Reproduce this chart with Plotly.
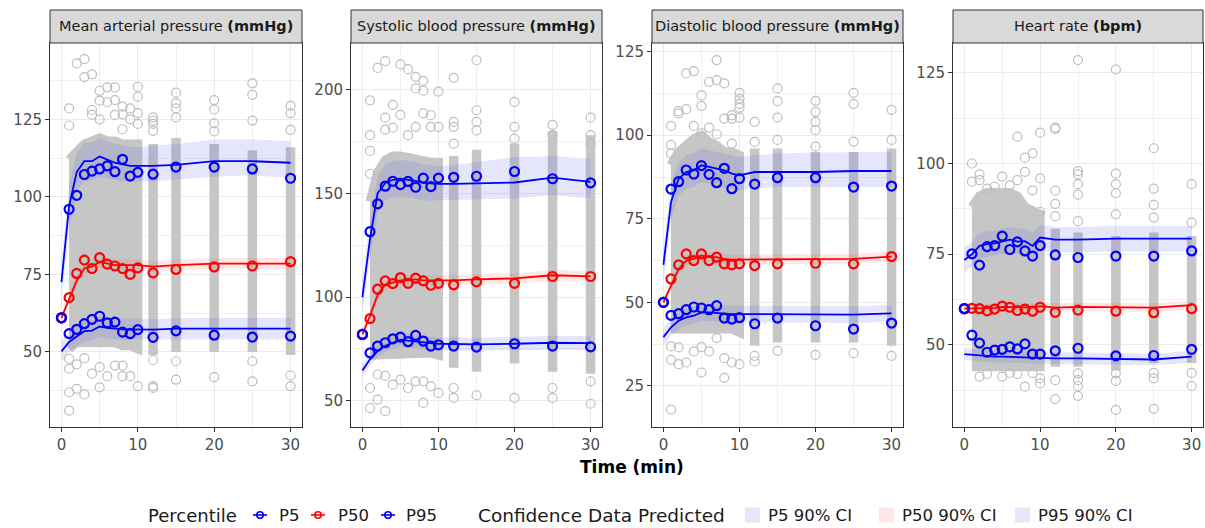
import plotly.graph_objects as go

FONT = "DejaVu Sans"
W, H = 1205, 528

TIMES = [0, 1, 2, 3, 4, 5, 6, 7, 8, 9, 10, 12, 15, 20, 25, 30]
CORE_T = [1, 2, 3, 4, 5, 6, 7, 8, 9, 10]
COL_T = [12, 15, 20, 25, 30]

# ---------------- Mean arterial pressure ----------------
MAP_P95_OBS = [61, 96, 100.5, 107.2, 108.3, 109, 110, 108.1, 112.1, 106.7, 107.9, 107.3, 109.6, 109.6, 109, 106]
MAP_P95_PRED = [72.5, 97, 108, 111.5, 111.5, 113, 112, 111, 110.5, 110, 110, 110, 110.3, 111.5, 111.5, 111]
MAP_P95_LO = [66, 90, 102, 105, 105.5, 106.5, 106, 105.5, 105, 105, 105, 105, 105.5, 106.5, 107, 106]
MAP_P95_HI = [79, 104, 114, 117.5, 117.5, 119, 118, 117, 116.5, 116, 116, 116.5, 117, 118.5, 118.5, 118]
MAP_P50_OBS = [61, 67.5, 75.3, 79.6, 76.9, 80.4, 78.3, 77.7, 76.9, 75, 77.1, 75.5, 76.6, 77.4, 77.7, 79.1]
MAP_P50_PRED = [61, 67, 73, 77, 77.5, 79, 78.5, 78, 78, 78, 78, 77.5, 78, 78.5, 78.5, 78.5]
MAP_P50_LO = [59.5, 65.5, 71.5, 75.3, 75.8, 77.2, 76.8, 76.3, 76.3, 76.3, 76.3, 75.8, 76.3, 76.8, 76.8, 76.8]
MAP_P50_HI = [62.5, 68.8, 74.8, 78.8, 79.3, 80.8, 80.3, 79.8, 79.8, 79.8, 79.8, 79.3, 79.8, 80.3, 80.3, 80.3]
MAP_P5_OBS = [61, 55.9, 57.3, 59.1, 60.5, 61.5, 59.4, 59.6, 56.4, 55.9, 57.2, 54.7, 56.8, 55.4, 54.8, 55.1]
MAP_P5_PRED = [50.2, 53.2, 55, 56.7, 56.9, 58.2, 57.8, 57.5, 57.3, 57.3, 57.3, 57.2, 57.5, 57.5, 57.5, 57.5]
MAP_P5_LO = [47, 50, 51.8, 53.4, 53.6, 54.8, 54.4, 54.1, 53.9, 53.9, 54, 54, 54.2, 54.1, 54, 54]
MAP_P5_HI = [53.5, 56.5, 58.3, 60, 60.3, 61.6, 61.2, 60.9, 60.7, 60.7, 60.6, 60.6, 60.9, 61, 61, 61]
MAP_CORE_HI = [112, 115, 117, 118, 119, 118, 118, 117, 117, 117]
MAP_CORE_LO = [51, 53, 53, 53, 53, 53, 53, 52, 52, 51]
MAP_COL_HI = [117, 119, 117, 115, 116]
MAP_COL_LO = [49, 50, 50, 50, 49]
MAP_OUT_T = [1, 1, 2, 3, 3, 4, 4, 4, 5, 5, 5, 6, 6, 7, 7, 7, 8, 8, 8, 9, 9, 10, 10, 10, 10,
             12, 12, 12, 12, 15, 15, 15, 15, 20, 20, 20, 20, 25, 25, 25, 30, 30, 30,
             1, 1, 1, 1, 2, 3, 4, 5, 5, 6, 7, 8, 8, 9, 10, 12, 12, 12, 15, 15, 20, 25, 25, 30, 30, 2, 3]
MAP_OUT_Y = [128.5, 123, 143, 144.4, 138.6, 139.5, 128, 126.5, 134.2, 131, 125, 135.3, 130.5, 135.3, 131.2, 126.4,
             129.1, 126.6, 121.8, 128.5, 125, 135.5, 132.3, 127, 123.5,
             125.6, 124.6, 123.5, 121.3, 133.6, 130.2, 128.5, 125.6, 131.2, 128.2, 123.7, 121.1,
             136.6, 132.9, 124.6, 129.3, 127, 121.6,
             31.1, 37, 44.6, 47.8, 38.1, 36.3, 43, 45.1, 38.6, 42.2, 45.6, 42.2, 45.6, 42.2, 39,
             39, 38.4, 47.4, 41.1, 47, 41.9, 40.5, 47, 42.4, 39, 46, 48]

# ---------------- Systolic blood pressure ----------------
SBP_P95_OBS = [82, 131.5, 144.9, 153.4, 155.8, 154.2, 155.7, 152.9, 157.3, 153.2, 157.3, 157.7, 158.2, 160.5, 157, 155]
SBP_P95_PRED = [100, 128, 150, 155, 156.5, 157, 156.5, 156, 155, 154.8, 154.5, 154.5, 154.8, 155.2, 157.5, 155.5]
SBP_P95_LO = [92, 119, 141, 146.5, 148, 148.5, 148, 147.5, 146.5, 146.5, 146.5, 146.5, 147, 147.5, 149, 147.5]
SBP_P95_HI = [108, 137, 158.5, 164, 165.5, 166, 165.5, 165, 164, 163.5, 163, 163.5, 165, 167.5, 168, 166.5]
SBP_P50_OBS = [82, 89.6, 103.8, 107.8, 106.5, 109.4, 106.6, 109.1, 107.8, 105.7, 106.6, 105.9, 107.3, 106.6, 109.9, 109.9]
SBP_P50_PRED = [82, 91, 101, 106, 107, 108, 108, 108.5, 108, 108, 108, 108, 108.5, 109, 110.5, 110]
SBP_P50_LO = [79.5, 88.5, 98.5, 103.5, 104.5, 105.5, 105.5, 106, 105.5, 105.5, 105.5, 105.5, 106, 106.5, 107.5, 107.5]
SBP_P50_HI = [84.5, 93.5, 103.5, 108.5, 109.5, 110.5, 110.5, 111, 110.5, 110.5, 110.5, 110.5, 111, 111.5, 113, 112.5]
SBP_P5_OBS = [82, 73.1, 76.4, 78, 79.9, 80.7, 78.5, 81.5, 78.8, 76.4, 77, 76.4, 75.9, 77.5, 76.4, 76]
SBP_P5_PRED = [64.6, 70, 74, 76.5, 78, 79.5, 79, 78.5, 78, 77.8, 77.5, 77.3, 77.2, 77.5, 78, 77.8]
SBP_P5_LO = [61.5, 67, 71, 73.5, 75, 76.3, 75.8, 75.3, 74.8, 74.6, 74.4, 74.2, 74.1, 74.3, 74.6, 74.4]
SBP_P5_HI = [67.7, 73, 77, 79.5, 81, 82.7, 82.2, 81.7, 81.2, 81, 80.6, 80.4, 80.4, 80.8, 81.4, 81.2]
SBP_CORE_HI = [146, 160, 166, 168, 168, 167, 166, 165, 165, 165]
SBP_CORE_LO = [72, 73, 73, 73, 73, 73, 73, 73, 73, 72]
SBP_COL_HI = [168, 171, 174, 180, 178]
SBP_COL_LO = [66, 64, 68, 64, 63]
SBP_OUT_T = [1, 1, 1, 1, 2, 3, 3, 3, 4, 4, 5, 5, 6, 6, 7, 7, 7, 8, 8, 8, 9, 9, 10, 10,
             12, 12, 12, 12, 15, 15, 15, 15, 20, 20, 20, 25, 25, 30, 30, 30,
             1, 3, 2, 1, 4, 5, 6, 7, 8, 8, 9, 10, 12, 12, 15, 20, 25, 25, 30, 30, 2, 3]
SBP_OUT_Y = [194.8, 178, 170.4, 159.4, 210.4, 213.7, 186.4, 180.7, 192.6, 181.6, 212.1, 187.8, 209.8, 178,
             206.1, 200.5, 182, 204.2, 199.4, 188.5, 187.6, 182, 199, 182,
             205.6, 184.4, 182, 173.9, 214.1, 190, 184.4, 180.3, 194, 182, 176.3, 183, 178, 186.4, 178, 173.9,
             46.5, 45, 50.6, 56.2, 57.8, 60.2, 56.2, 59.4, 49, 59.4, 57, 53.8, 51.4, 56.2, 52.7, 51.4,
             51.4, 56.2, 48.6, 59.4, 62.7, 62]

# ---------------- Diastolic blood pressure ----------------
DBP_P95_OBS = [50, 83.9, 86.1, 89.6, 88.4, 90.9, 88.3, 85.8, 90.1, 84, 87, 85.4, 87.3, 87.3, 84.5, 84.8]
DBP_P95_PRED = [61.2, 80, 87, 89, 89.5, 91, 90.5, 90, 89.5, 88.5, 88, 89, 89, 89, 89.3, 89.3]
DBP_P95_LO = [56.5, 75, 82, 84, 84.5, 86, 85.5, 85, 84.5, 84, 83.5, 84, 84.5, 84.5, 84.5, 84.5]
DBP_P95_HI = [66, 85, 92, 94, 94.5, 96, 95.5, 95, 94.5, 94, 93.5, 94, 94.5, 94.8, 95, 95]
DBP_P50_OBS = [50, 57, 61.2, 64.5, 62.5, 64.5, 62.5, 63.5, 61.5, 61.2, 61.5, 61, 61.5, 61.7, 61.5, 63.7]
DBP_P50_PRED = [50, 55, 60, 62.5, 63, 64, 63.5, 63.5, 63, 62.8, 62.8, 63, 63, 63, 63, 63.7]
DBP_P50_LO = [48.5, 53.5, 58.5, 61, 61.5, 62.5, 62, 62, 61.5, 61.3, 61.3, 61.5, 61.5, 61.5, 61.5, 62.2]
DBP_P50_HI = [51.5, 56.5, 61.5, 64, 64.5, 65.5, 65, 65, 64.5, 64.3, 64.3, 64.5, 64.5, 64.5, 64.5, 65.2]
DBP_P5_OBS = [50, 46.1, 46.6, 47.8, 48.6, 48.3, 47.8, 49, 45.3, 45, 45.4, 43.6, 45.3, 43, 42, 43.8]
DBP_P5_PRED = [39.6, 42.5, 44.5, 45.5, 46, 47, 47, 46.8, 46.5, 46.5, 46.5, 46.5, 46.5, 46.3, 46.3, 46.7]
DBP_P5_LO = [37, 40, 42, 43, 43.5, 44.5, 44.5, 44.3, 44, 44, 44, 44, 44, 43.8, 43.8, 44.2]
DBP_P5_HI = [42.2, 45, 47, 48, 48.5, 49.5, 49.5, 49.3, 49, 49, 49, 49, 49, 48.8, 48.8, 49.2]
DBP_CORE_HI = [91, 95, 97, 99, 100, 98, 97, 95, 95, 94]
DBP_CORE_LO = [42, 42, 42, 42, 42, 42, 42, 42, 42, 41]
DBP_COL_HI = [96, 96, 95, 95, 96]
DBP_COL_LO = [37, 38, 38, 38, 37]
DBP_OUT_T = [7, 3, 4, 6, 7, 8, 5, 5, 10, 10, 10, 10, 10, 15, 15, 15, 20, 20, 20, 20, 25, 25, 30,
             2, 2, 3, 1, 1, 1, 8, 9, 9, 12, 12, 4, 5, 6, 7, 9, 15, 20, 25, 30,
             1, 1, 2, 3, 5, 8, 8, 9, 10, 4, 6, 1, 2, 12, 12, 15, 20, 25, 30, 7, 5]
DBP_OUT_Y = [122.5, 118.5, 119.2, 116, 116.5, 115.5, 111.9, 108.8, 112.7, 110.9, 109.4, 108.2, 105.3,
             114, 110.2, 105.3, 110.3, 107, 104, 101.5, 112.7, 109.4, 107.6,
             107.2, 106.5, 107.8, 102.8, 97.1, 94.5, 105, 106, 105, 104, 98, 102.8, 100.6, 102.3, 100.3, 97.5,
             98.6, 96.6, 98.1, 98.6,
             17.9, 32.8, 31.5, 32, 29, 27.4, 33.3, 32, 31.5, 35.3, 35.3, 36.8, 36.5, 32.3, 34, 35.5,
             34.3, 34.8, 34, 39.3, 36.6]

# ---------------- Heart rate ----------------
HR_P95_OBS = [60, 75.1, 72, 77.1, 77.4, 80, 76.3, 78.4, 75.9, 74.5, 77.4, 74.8, 74.1, 74.5, 74.5, 75.9]
HR_P95_PRED = [73.4, 75, 77.3, 77.8, 78, 78.6, 79, 78.5, 78.6, 77.3, 79.6, 79, 79, 79.3, 79.3, 79.3]
HR_P95_LO = [70, 71.5, 73.8, 74.3, 74.5, 75.1, 75.5, 75, 75.1, 73.8, 76.1, 75.5, 75.5, 75.8, 75.8, 75.8]
HR_P95_HI = [76.8, 78.5, 80.8, 81.3, 81.5, 82.1, 82.5, 82, 82.1, 80.8, 83.1, 82.5, 82.5, 82.8, 82.8, 82.8]
HR_P50_OBS = [60, 60.1, 60, 59.4, 59.9, 60.7, 60.4, 59.5, 59.9, 59.3, 60.4, 59, 59.6, 59.3, 58.9, 60]
HR_P50_PRED = [60, 60, 60, 60, 60.2, 60.5, 60.4, 60.3, 60.2, 60.3, 60.7, 60.3, 60.5, 60.5, 60.3, 61]
HR_P50_LO = [58.8, 58.8, 58.8, 58.8, 59, 59.3, 59.2, 59.1, 59, 59.1, 59.5, 59.1, 59.3, 59.3, 59.1, 59.8]
HR_P50_HI = [61.2, 61.2, 61.2, 61.2, 61.4, 61.7, 61.6, 61.5, 61.4, 61.5, 61.9, 61.5, 61.7, 61.7, 61.5, 62.2]
HR_P5_OBS = [60, 52.7, 50.5, 48, 48.6, 48.8, 49.5, 48.9, 50.3, 47.5, 47.5, 48.4, 49.1, 47, 47.1, 48.8]
HR_P5_PRED = [47.5, 47.3, 47.1, 46.9, 46.8, 46.8, 46.7, 46.7, 46.6, 46.5, 46.5, 46.3, 46.3, 46.2, 46, 46.8]
HR_P5_LO = [45.9, 45.7, 45.5, 45.3, 45.2, 45.2, 45.1, 45.1, 45, 44.9, 44.9, 44.7, 44.7, 44.6, 44.4, 45.2]
HR_P5_HI = [49.1, 48.9, 48.7, 48.5, 48.4, 48.4, 48.3, 48.3, 48.2, 48.1, 48.1, 47.9, 47.9, 47.8, 47.6, 48.4]
HR_CORE_HI = [88, 91, 92, 92, 92, 92, 91, 88, 87, 86]
HR_CORE_LO = [44, 44, 44, 44, 44, 44, 44, 44, 44, 44]
HR_COL_HI = [82, 81, 80, 81, 80]
HR_COL_LO = [44, 44, 43, 45, 45]
HR_OUT_T = [15, 20, 25, 12, 12, 10, 7, 9, 8, 1, 8, 7, 5, 2, 2, 1, 15, 15, 15, 15, 20, 20, 20, 25, 25, 30,
            12, 12, 12, 10, 9, 6, 4, 3, 15, 20, 25, 30, 10,
            20, 25, 12, 15, 8, 30, 2, 3, 5, 7, 10, 10, 12, 15, 15, 15, 20, 20, 25, 25, 30, 9, 6]
HR_OUT_Y = [128.5, 125.9, 104.2, 109.9, 109.5, 108.5, 107.4, 102.8, 101.6, 100, 97.7, 95.4, 96.4, 97, 95.4, 95,
            97.9, 97, 94.3, 91.4, 97.2, 94.3, 91.8, 93.1, 88.6, 94.3,
            92.5, 88.9, 85.5, 95.9, 92.6, 94, 93.6, 93.1, 84.1, 86, 85.1, 83.7, 86.7,
            32.1, 32.4, 35.1, 36, 38.5, 38.7, 41.3, 42, 41.3, 42, 39.4, 40.8, 40.3, 38.7, 40.3, 42.2,
            40.1, 42.2, 40.8, 42.3, 42.3, 42.3, 42.3]

TITLES = ["Mean arterial pressure <b>(mmHg)</b>", "Systolic blood pressure <b>(mmHg)</b>",
          "Diastolic blood pressure <b>(mmHg)</b>", "Heart rate <b>(bpm)</b>"]
Y_RANGES = [[25.8, 149.6], [37.4, 222.4], [12.7, 127.6], [27.4, 133.2]]
Y_TICKS = [[50, 75, 100, 125], [50, 100, 150, 200], [25, 50, 75, 100, 125], [50, 75, 100, 125]]
Y_MINOR = [12.5, 25, 12.5, 12.5]
X_TICKS = [0, 10, 20, 30]
PCT_LABELS = ["P5", "P50", "P95"]
CI_LABELS = ["P5 90% CI", "P50 90% CI", "P95 90% CI"]

PANEL_PX = [(50, 302), (351, 602), (652, 903), (953, 1203)]
PLOT_TOP, PLOT_BOT, STRIP_TOP = 43, 427, 10

PANELS = [
    dict(p95=(MAP_P95_OBS, MAP_P95_PRED, MAP_P95_LO, MAP_P95_HI), p50=(MAP_P50_OBS, MAP_P50_PRED, MAP_P50_LO, MAP_P50_HI),
         p5=(MAP_P5_OBS, MAP_P5_PRED, MAP_P5_LO, MAP_P5_HI), core=(MAP_CORE_LO, MAP_CORE_HI), col=(MAP_COL_LO, MAP_COL_HI),
         out=(MAP_OUT_T, MAP_OUT_Y)),
    dict(p95=(SBP_P95_OBS, SBP_P95_PRED, SBP_P95_LO, SBP_P95_HI), p50=(SBP_P50_OBS, SBP_P50_PRED, SBP_P50_LO, SBP_P50_HI),
         p5=(SBP_P5_OBS, SBP_P5_PRED, SBP_P5_LO, SBP_P5_HI), core=(SBP_CORE_LO, SBP_CORE_HI), col=(SBP_COL_LO, SBP_COL_HI),
         out=(SBP_OUT_T, SBP_OUT_Y)),
    dict(p95=(DBP_P95_OBS, DBP_P95_PRED, DBP_P95_LO, DBP_P95_HI), p50=(DBP_P50_OBS, DBP_P50_PRED, DBP_P50_LO, DBP_P50_HI),
         p5=(DBP_P5_OBS, DBP_P5_PRED, DBP_P5_LO, DBP_P5_HI), core=(DBP_CORE_LO, DBP_CORE_HI), col=(DBP_COL_LO, DBP_COL_HI),
         out=(DBP_OUT_T, DBP_OUT_Y)),
    dict(p95=(HR_P95_OBS, HR_P95_PRED, HR_P95_LO, HR_P95_HI), p50=(HR_P50_OBS, HR_P50_PRED, HR_P50_LO, HR_P50_HI),
         p5=(HR_P5_OBS, HR_P5_PRED, HR_P5_LO, HR_P5_HI), core=(HR_CORE_LO, HR_CORE_HI), col=(HR_COL_LO, HR_COL_HI),
         out=(HR_OUT_T, HR_OUT_Y)),
]

GRAY = "#BEBEBE"
DENSE = "#C6C6C6"
BLUE = "#0000FF"
RED = "#FF0000"
BAND = {"p5": "rgba(70,70,235,0.14)", "p50": "rgba(255,60,60,0.12)", "p95": "rgba(70,70,235,0.14)"}
KEYS = ["p5", "p50", "p95"]
LINE_COL = {"p5": BLUE, "p50": RED, "p95": BLUE}

fig = go.Figure()

for i, pan in enumerate(PANELS):
    xa = "x" if i == 0 else f"x{i+1}"
    ya = "y" if i == 0 else f"y{i+1}"
    lo, hi = pan["core"]
    fig.add_trace(go.Scatter(x=CORE_T + CORE_T[::-1], y=hi + lo[::-1], xaxis=xa, yaxis=ya,
                             mode="lines", fill="toself", fillcolor=DENSE,
                             line=dict(color=DENSE, width=9), showlegend=False, hoverinfo="skip"))
    clo, chi = pan["col"]
    cx, cy = [], []
    for t, a, b in zip(COL_T, clo, chi):
        cx += [t, t, None]
        cy += [a, b, None]
    fig.add_trace(go.Scatter(x=cx, y=cy, xaxis=xa, yaxis=ya, mode="lines",
                             line=dict(color=DENSE, width=9.5), showlegend=False, hoverinfo="skip"))
    ot, oy = pan["out"]
    fig.add_trace(go.Scatter(x=ot, y=oy, xaxis=xa, yaxis=ya, mode="markers",
                             marker=dict(symbol="circle-open", size=9, color=GRAY, line=dict(width=1.2)),
                             showlegend=False, hoverinfo="skip"))
    for key in KEYS:
        obs, pred, blo, bhi = pan[key]
        fig.add_trace(go.Scatter(x=TIMES + TIMES[::-1], y=bhi + blo[::-1], xaxis=xa, yaxis=ya,
                                 mode="lines", fill="toself", fillcolor=BAND[key],
                                 line=dict(width=0, color=BAND[key]), showlegend=False, hoverinfo="skip"))
    for key in KEYS:
        obs, pred, blo, bhi = pan[key]
        fig.add_trace(go.Scatter(x=TIMES, y=pred, xaxis=xa, yaxis=ya, mode="lines",
                                 line=dict(color=LINE_COL[key], width=1.8), showlegend=False))
    for key in KEYS:
        obs, pred, blo, bhi = pan[key]
        fig.add_trace(go.Scatter(x=TIMES, y=obs, xaxis=xa, yaxis=ya, mode="markers",
                                 marker=dict(symbol="circle-open", size=9, color=LINE_COL[key],
                                             line=dict(width=2.2)),
                                 showlegend=False))

layout = dict(
    width=W, height=H, margin=dict(l=0, r=0, t=0, b=0, autoexpand=False),
    paper_bgcolor="white", plot_bgcolor="white",
    font=dict(family=FONT, size=15, color="#1A1A1A"),
    showlegend=False,
)

shapes, annotations = [], []
for i in range(4):
    x0, x1 = PANEL_PX[i]
    sfx = "" if i == 0 else str(i + 1)
    layout["xaxis" + sfx] = dict(
        domain=[x0 / W, x1 / W], anchor="y" + sfx, range=[-1.5, 31.5],
        tickvals=X_TICKS, ticks="outside", ticklen=4, tickcolor="#333333",
        tickfont=dict(size=15, color="#4D4D4D", family=FONT),
        showgrid=True, gridcolor="#EBEBEB", gridwidth=1.2,
        minor=dict(dtick=5, tick0=0, showgrid=True, gridcolor="#F0F0F0", gridwidth=0.7),
        showline=True, mirror=True, linecolor="#333333", linewidth=1, zeroline=False,
    )
    layout["yaxis" + sfx] = dict(
        domain=[1 - PLOT_BOT / H, 1 - PLOT_TOP / H], anchor="x" + sfx, range=Y_RANGES[i],
        tickvals=Y_TICKS[i], ticks="outside", ticklen=4, tickcolor="#333333",
        tickfont=dict(size=15, color="#4D4D4D", family=FONT),
        showgrid=True, gridcolor="#EBEBEB", gridwidth=1.2,
        minor=dict(dtick=Y_MINOR[i], tick0=0, showgrid=True, gridcolor="#F0F0F0", gridwidth=0.7),
        showline=True, mirror=True, linecolor="#333333", linewidth=1, zeroline=False,
    )
    shapes.append(dict(type="rect", xref="paper", yref="paper", x0=x0 / W, x1=x1 / W,
                       y0=1 - PLOT_TOP / H, y1=1 - STRIP_TOP / H,
                       fillcolor="#D9D9D9", line=dict(color="#333333", width=1), layer="above"))
    annotations.append(dict(text=TITLES[i], xref="paper", yref="paper", x=(x0 + x1) / 2 / W,
                            y=1 - (PLOT_TOP + STRIP_TOP) / 2 / H, showarrow=False,
                            xanchor="center", yanchor="middle",
                            font=dict(size=14.5, color="#1A1A1A", family=FONT)))

annotations.append(dict(text="<b>Time (min)</b>", xref="paper", yref="paper", x=632 / W, y=1 - 467 / H,
                        showarrow=False, xanchor="center", yanchor="middle",
                        font=dict(size=17, color="#000000", family=FONT)))

# ---------------- manual legend (ggplot style) ----------------
LY = 515


def px(x):
    return x / W


def py(y):
    return 1 - y / H


def text(s, x, size):
    annotations.append(dict(text=s, xref="paper", yref="paper", x=px(x), y=py(LY), showarrow=False,
                            xanchor="left", yanchor="middle",
                            font=dict(size=size, color="#1A1A1A", family=FONT)))


text("Percentile", 146, 18)
pct_centers = [260, 318, 388]
pct_text_x = [277, 336, 404]
for key, cxp, tx, lab in zip(KEYS, pct_centers, pct_text_x, PCT_LABELS):
    c = LINE_COL[key]
    shapes.append(dict(type="line", xref="paper", yref="paper", x0=px(cxp - 7), x1=px(cxp + 7),
                       y0=py(LY), y1=py(LY), line=dict(color=c, width=1.6)))
    shapes.append(dict(type="circle", xref="paper", yref="paper", x0=px(cxp - 3.2), x1=px(cxp + 3.2),
                       y0=py(LY - 3.2), y1=py(LY + 3.2), line=dict(color=c, width=1.6),
                       fillcolor="rgba(0,0,0,0)"))
    text(lab, tx, 16.5)

text("Confidence Data Predicted", 476, 18.5)
ci_box_x = [745, 879, 1015]
ci_text_x = [766, 900, 1036]
for key, bx, tx, lab in zip(KEYS, ci_box_x, ci_text_x, CI_LABELS):
    shapes.append(dict(type="rect", xref="paper", yref="paper", x0=px(bx), x1=px(bx + 15),
                       y0=py(LY + 7.5), y1=py(LY - 7.5), fillcolor=BAND[key], line=dict(width=0)))
    text(lab, tx, 16.5)

layout["shapes"] = shapes
layout["annotations"] = annotations
fig.update_layout(**layout)
fig.write_html("out.html")
